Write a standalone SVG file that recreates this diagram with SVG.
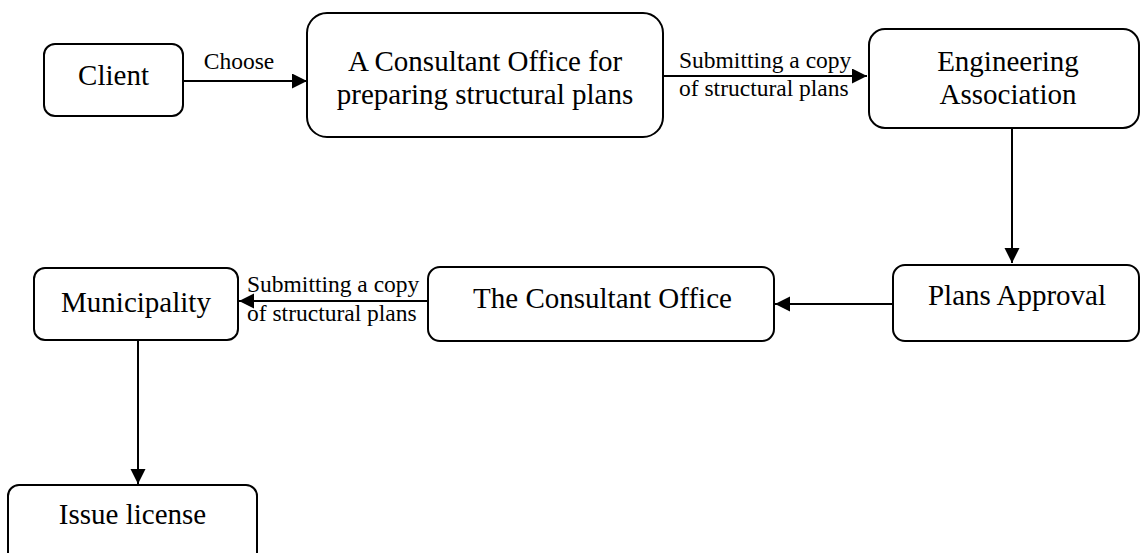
<svg xmlns="http://www.w3.org/2000/svg" width="1140" height="553" viewBox="0 0 1140 553">
<style>
.box{fill:#fff;stroke:#000;stroke-width:2}
.t{font-family:"Liberation Serif","Times New Roman",serif;font-size:29px;fill:#000;text-anchor:middle}
.l{font-family:"Liberation Serif","Times New Roman",serif;font-size:23.5px;fill:#000}
.c{stroke:#000;stroke-width:2;fill:none;marker-end:url(#ah)}
</style>
<defs>
<marker id="ah" markerUnits="userSpaceOnUse" markerWidth="16" markerHeight="16" refX="15" refY="7.5" orient="auto">
<path d="M0,0 L15,7.5 L0,15 Z" fill="#000"/>
</marker>
</defs>
<rect width="1140" height="553" fill="#fff"/>
<g id="connectors">
<line class="c" x1="183" y1="81" x2="307" y2="81"/>
<line class="c" x1="663" y1="76" x2="867" y2="76"/>
<line class="c" x1="1012" y1="128" x2="1012" y2="263"/>
<line class="c" x1="893" y1="304" x2="775" y2="304"/>
<line class="c" x1="428" y1="301" x2="239" y2="301"/>
<line class="c" x1="138" y1="340" x2="138" y2="484"/>
<text class="l" x="239" y="69" text-anchor="middle">Choose</text>
<text class="l" x="679" y="68">Submitting a copy</text>
<text class="l" x="679" y="96">of structural plans</text>
<text class="l" x="247" y="292">Submitting a copy</text>
<text class="l" x="247" y="321">of structural plans</text>
</g>
<g id="client">
<rect class="box" x="44" y="44" width="139" height="72" rx="11"/>
<text class="t" x="113.5" y="85">Client</text>
</g>
<g id="consultant-prep">
<rect class="box" x="307" y="13" width="356" height="124" rx="20"/>
<text class="t" x="485" y="71">A Consultant Office for</text>
<text class="t" x="485" y="104">preparing structural plans</text>
</g>
<g id="engineering">
<rect class="box" x="869" y="29" width="270" height="99" rx="16"/>
<text class="t" x="1008" y="71">Engineering</text>
<text class="t" x="1008" y="104">Association</text>
</g>
<g id="plans-approval">
<rect class="box" x="893" y="265" width="246" height="76" rx="12"/>
<text class="t" x="1017" y="305">Plans Approval</text>
</g>
<g id="consultant-office">
<rect class="box" x="428" y="267" width="346" height="74" rx="12"/>
<text class="t" x="602.5" y="308">The Consultant Office</text>
</g>
<g id="municipality">
<rect class="box" x="34" y="268" width="204" height="72" rx="11"/>
<text class="t" x="136" y="312">Municipality</text>
</g>
<g id="issue-license">
<rect class="box" x="8" y="485" width="249" height="80" rx="11"/>
<text class="t" x="132.5" y="524">Issue license</text>
</g>
</svg>
